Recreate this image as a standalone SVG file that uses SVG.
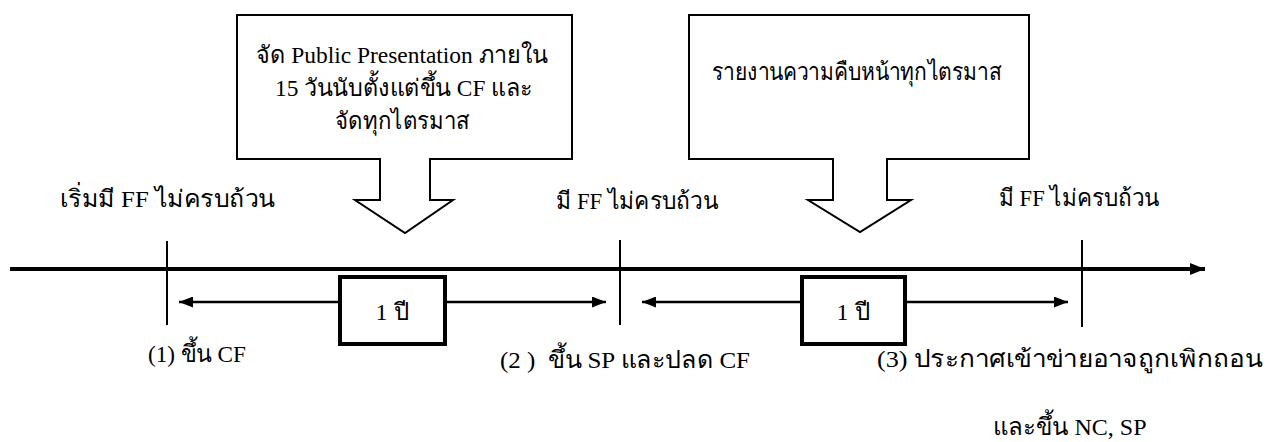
<svg xmlns="http://www.w3.org/2000/svg" width="1269" height="442" viewBox="0 0 1269 442">
<style>
text{font-family:"Liberation Serif","Times New Roman",serif;font-size:24px;fill:#000;white-space:pre}
.c{text-anchor:middle}
.call{fill:#fff;stroke:#000;stroke-width:2}
.tick{stroke:#000;stroke-width:2}
.axis{stroke:#000;stroke-width:4}
.span{stroke:#000;stroke-width:2.5}
.yr{fill:#fff;stroke:#000;stroke-width:4}
</style>
<defs>
<marker id="ah" viewBox="0 0 15 12" refX="15" refY="6" markerWidth="15" markerHeight="12" markerUnits="userSpaceOnUse" orient="auto-start-reverse">
<path d="M0,0 L15,6 L0,12 Z" fill="#000"/>
</marker>
<marker id="sh" viewBox="0 0 14 11" refX="14" refY="5.5" markerWidth="14" markerHeight="11" markerUnits="userSpaceOnUse" orient="auto-start-reverse">
<path d="M0,0 L14,5.5 L0,11 Z" fill="#000"/>
</marker>
</defs>
<rect width="1269" height="442" fill="#fff"/>
<g id="connectors">
<line class="axis" x1="10" y1="269" x2="1205" y2="269" marker-end="url(#ah)"/>
<line class="tick" x1="167" y1="241" x2="167" y2="325"/>
<line class="tick" x1="620" y1="240" x2="620" y2="325"/>
<line class="tick" x1="1082" y1="240" x2="1082" y2="327"/>
<line class="span" x1="340" y1="302" x2="179" y2="302" marker-end="url(#sh)"/>
<line class="span" x1="445" y1="302" x2="606" y2="302" marker-end="url(#sh)"/>
<line class="span" x1="802" y1="302" x2="642" y2="302" marker-end="url(#sh)"/>
<line class="span" x1="905" y1="302" x2="1068" y2="302" marker-end="url(#sh)"/>
</g>
<g id="callout1">
<path class="call" d="M237,15 H572 V159 H430 V200 H453 L405,233 L355,200 H380 V159 H237 Z"/>
<text x="256" y="63" textLength="292" lengthAdjust="spacingAndGlyphs">จัด Public Presentation ภายใน</text>
<text x="275" y="96" textLength="258" lengthAdjust="spacingAndGlyphs">15 วันนับตั้งแต่ขึ้น CF และ</text>
<text x="335" y="129" textLength="135" lengthAdjust="spacingAndGlyphs">จัดทุกไตรมาส</text>
</g>
<g id="callout2">
<path class="call" d="M689,15 H1029 V159 H887 V200 H911 L860,232 L808,200 H833 V159 H689 Z"/>
<text x="712" y="80" textLength="290" lengthAdjust="spacingAndGlyphs">รายงานความคืบหน้าทุกไตรมาส</text>
</g>
<g id="label-start">
<text x="60" y="207" textLength="215" lengthAdjust="spacingAndGlyphs">เริ่มมี FF ไม่ครบถ้วน</text>
</g>
<g id="label-mid">
<text x="556" y="209" textLength="162" lengthAdjust="spacingAndGlyphs">มี FF ไม่ครบถ้วน</text>
</g>
<g id="label-end">
<text x="999" y="206" textLength="160" lengthAdjust="spacingAndGlyphs">มี FF ไม่ครบถ้วน</text>
</g>
<g id="year1">
<rect class="yr" x="340" y="277" width="105" height="67"/>
<text class="c" x="392" y="320">1 ปี</text>
</g>
<g id="year2">
<rect class="yr" x="802" y="277" width="103" height="67"/>
<text class="c" x="853" y="320">1 ปี</text>
</g>
<g id="step1">
<text x="148" y="362" textLength="98" lengthAdjust="spacingAndGlyphs">(1) ขึ้น CF</text>
</g>
<g id="step2">
<text x="500" y="368" textLength="250" lengthAdjust="spacingAndGlyphs">(2 )  ขึ้น SP และปลด CF</text>
</g>
<g id="step3">
<text x="877" y="367" textLength="385" lengthAdjust="spacingAndGlyphs">(3) ประกาศเข้าข่ายอาจถูกเพิกถอน</text>
<text class="c" x="1070" y="435">และขึ้น NC, SP</text>
</g>
</svg>
